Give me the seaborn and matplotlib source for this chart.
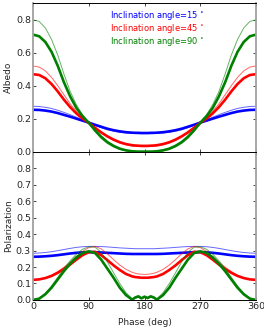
import numpy as np
import pandas as pd
import matplotlib
matplotlib.use("Agg")
import matplotlib.pyplot as plt
import seaborn as sns

# phase grid (deg), finer around 180 where the 90 deg polarization curve is noisy
phase = [0, 10, 20, 30, 40, 50, 60, 70, 80, 90, 100, 110, 120, 130, 140, 150, 160,
         165, 170, 175, 180, 185, 190, 195,
         200, 210, 220, 230, 240, 250, 260, 270, 280, 290, 300, 310, 320, 330, 340, 350, 360]

# albedo, thick = model A, thin = model B
alb_15_thick = [0.254, 0.253, 0.249, 0.243, 0.234, 0.223, 0.212, 0.200, 0.188, 0.176, 0.163, 0.151, 0.139, 0.130, 0.123, 0.118, 0.115,
                0.114, 0.114, 0.113, 0.113, 0.113, 0.114, 0.114,
                0.115, 0.118, 0.123, 0.130, 0.139, 0.151, 0.163, 0.176, 0.188, 0.200, 0.212, 0.223, 0.234, 0.243, 0.249, 0.253, 0.254]
alb_15_thin = [0.275, 0.274, 0.269, 0.262, 0.251, 0.238, 0.224, 0.209, 0.193, 0.176, 0.160, 0.145, 0.133, 0.124, 0.117, 0.113, 0.110,
               0.110, 0.109, 0.109, 0.109, 0.109, 0.109, 0.110,
               0.110, 0.113, 0.117, 0.124, 0.133, 0.145, 0.160, 0.176, 0.193, 0.209, 0.224, 0.238, 0.251, 0.262, 0.269, 0.274, 0.275]
alb_45_thick = [0.470, 0.465, 0.445, 0.410, 0.365, 0.315, 0.270, 0.232, 0.200, 0.175, 0.145, 0.117, 0.093, 0.073, 0.057, 0.046, 0.039,
                0.037, 0.036, 0.035, 0.035, 0.035, 0.036, 0.037,
                0.039, 0.046, 0.057, 0.073, 0.093, 0.117, 0.145, 0.175, 0.200, 0.232, 0.270, 0.315, 0.365, 0.410, 0.445, 0.465, 0.470]
alb_45_thin = [0.520, 0.513, 0.490, 0.450, 0.400, 0.345, 0.290, 0.245, 0.207, 0.175, 0.142, 0.112, 0.088, 0.068, 0.052, 0.041, 0.034,
               0.032, 0.031, 0.030, 0.030, 0.030, 0.031, 0.032,
               0.034, 0.041, 0.052, 0.068, 0.088, 0.112, 0.142, 0.175, 0.207, 0.245, 0.290, 0.345, 0.400, 0.450, 0.490, 0.513, 0.520]
alb_90_thick = [0.710, 0.700, 0.665, 0.605, 0.520, 0.420, 0.335, 0.265, 0.215, 0.175, 0.130, 0.090, 0.058, 0.035, 0.018, 0.008, 0.002,
                0.001, 0.000, 0.000, 0.000, 0.000, 0.000, 0.001,
                0.002, 0.008, 0.018, 0.035, 0.058, 0.090, 0.130, 0.175, 0.215, 0.265, 0.335, 0.420, 0.520, 0.605, 0.665, 0.700, 0.710]
alb_90_thin = [0.800, 0.790, 0.750, 0.680, 0.585, 0.470, 0.365, 0.285, 0.222, 0.175, 0.122, 0.080, 0.050, 0.028, 0.013, 0.005, 0.001,
               0.000, 0.000, 0.000, 0.000, 0.000, 0.000, 0.000,
               0.001, 0.005, 0.013, 0.028, 0.050, 0.080, 0.122, 0.175, 0.222, 0.285, 0.365, 0.470, 0.585, 0.680, 0.750, 0.790, 0.800]

# polarization
pol_15_thick = [0.262, 0.263, 0.265, 0.268, 0.272, 0.277, 0.282, 0.286, 0.289, 0.290, 0.290, 0.288, 0.286, 0.284, 0.282, 0.280, 0.279,
                0.279, 0.279, 0.279, 0.279, 0.279, 0.279, 0.279,
                0.279, 0.280, 0.282, 0.284, 0.286, 0.288, 0.290, 0.290, 0.289, 0.286, 0.282, 0.277, 0.272, 0.268, 0.265, 0.263, 0.262]
pol_15_thin = [0.283, 0.285, 0.288, 0.293, 0.299, 0.306, 0.313, 0.319, 0.323, 0.325, 0.325, 0.324, 0.322, 0.319, 0.316, 0.314, 0.312,
               0.311, 0.311, 0.311, 0.311, 0.311, 0.311, 0.311,
               0.312, 0.314, 0.316, 0.319, 0.322, 0.324, 0.325, 0.325, 0.323, 0.319, 0.313, 0.306, 0.299, 0.293, 0.288, 0.285, 0.283]
pol_45_thick = [0.122, 0.125, 0.133, 0.146, 0.165, 0.188, 0.215, 0.245, 0.272, 0.290, 0.292, 0.272, 0.242, 0.210, 0.182, 0.158, 0.143,
                0.139, 0.137, 0.135, 0.135, 0.135, 0.137, 0.139,
                0.143, 0.158, 0.182, 0.210, 0.242, 0.272, 0.292, 0.290, 0.272, 0.245, 0.215, 0.188, 0.165, 0.146, 0.133, 0.125, 0.122]
pol_45_thin = [0.120, 0.124, 0.134, 0.150, 0.172, 0.199, 0.230, 0.263, 0.295, 0.318, 0.325, 0.310, 0.280, 0.245, 0.212, 0.186, 0.168,
               0.162, 0.158, 0.156, 0.155, 0.156, 0.158, 0.162,
               0.168, 0.186, 0.212, 0.245, 0.280, 0.310, 0.325, 0.318, 0.295, 0.263, 0.230, 0.199, 0.172, 0.150, 0.134, 0.124, 0.120]
pol_90_thick = [0.000, 0.008, 0.035, 0.075, 0.125, 0.175, 0.220, 0.258, 0.285, 0.295, 0.285, 0.245, 0.190, 0.135, 0.075, 0.030, 0.002,
                0.015, 0.022, 0.010, 0.020, 0.012, 0.022, 0.015,
                0.002, 0.030, 0.075, 0.135, 0.190, 0.245, 0.285, 0.295, 0.285, 0.258, 0.220, 0.175, 0.125, 0.075, 0.035, 0.008, 0.000]
pol_90_thin = [0.000, 0.010, 0.040, 0.085, 0.138, 0.190, 0.238, 0.278, 0.308, 0.323, 0.320, 0.290, 0.232, 0.165, 0.100, 0.045, 0.006,
               0.010, 0.016, 0.008, 0.015, 0.008, 0.016, 0.010,
               0.006, 0.045, 0.100, 0.165, 0.232, 0.290, 0.320, 0.323, 0.308, 0.278, 0.238, 0.190, 0.138, 0.085, 0.040, 0.010, 0.000]

angles = ["15", "45", "90"]
colors = ["#0000ff", "#ff0000", "#008000"]
albedo = {"15": (alb_15_thick, alb_15_thin), "45": (alb_45_thick, alb_45_thin), "90": (alb_90_thick, alb_90_thin)}
polar = {"15": (pol_15_thick, pol_15_thin), "45": (pol_45_thick, pol_45_thin), "90": (pol_90_thick, pol_90_thin)}

sns.set_style("ticks")
plt.rcParams["font.family"] = ["DejaVu Sans"]

fig, (ax1, ax2) = plt.subplots(2, 1, figsize=(2.64, 3.3), dpi=100, sharex=True)
fig.subplots_adjust(left=0.125, right=0.97, top=0.99, bottom=0.091, hspace=0)

for ang, col in zip(angles, colors):
    thick, thin = albedo[ang]
    sns.lineplot(x=phase, y=thin, ax=ax1, color=col, lw=0.7, alpha=0.6)
    sns.lineplot(x=phase, y=thick, ax=ax1, color=col, lw=1.9,
                 label="Inclination angle=" + ang + r"$\,^\circ$")
    thick, thin = polar[ang]
    sns.lineplot(x=phase, y=thin, ax=ax2, color=col, lw=0.7, alpha=0.6)
    sns.lineplot(x=phase, y=thick, ax=ax2, color=col, lw=1.9)

leg = ax1.legend(loc="upper center", bbox_to_anchor=(0.555, 1.015), frameon=False,
                 handlelength=0, handletextpad=0, labelspacing=0.05,
                 fontsize=6, labelcolor="linecolor")
for h in leg.legend_handles:
    h.set_visible(False)

for ax in (ax1, ax2):
    ax.set_xlim(0, 360)
    ax.set_ylim(0, 0.9)
    ax.tick_params(direction="in", top=True, right=True, length=2.5, width=0.6,
                   labelsize=6.8, pad=1.5)
    for s in ("left", "right"):
        ax.spines[s].set_color("#a0a0a0")
        ax.spines[s].set_linewidth(1.3)
    for s in ("top", "bottom"):
        ax.spines[s].set_color("black")
        ax.spines[s].set_linewidth(0.7)

ax1.set_yticks([0.0, 0.2, 0.4, 0.6, 0.8])
ax2.set_yticks([0.0, 0.1, 0.2, 0.3, 0.4, 0.5, 0.6, 0.7, 0.8])
ax2.set_xticks([0, 90, 180, 270, 360])
ax1.set_ylabel("Albedo", fontsize=6.5, labelpad=2)
ax2.set_ylabel("Polarization", fontsize=6.5, labelpad=2)
ax2.set_xlabel("Phase (deg)", fontsize=6.5, labelpad=5)

fig.savefig("out.png", dpi=100)
